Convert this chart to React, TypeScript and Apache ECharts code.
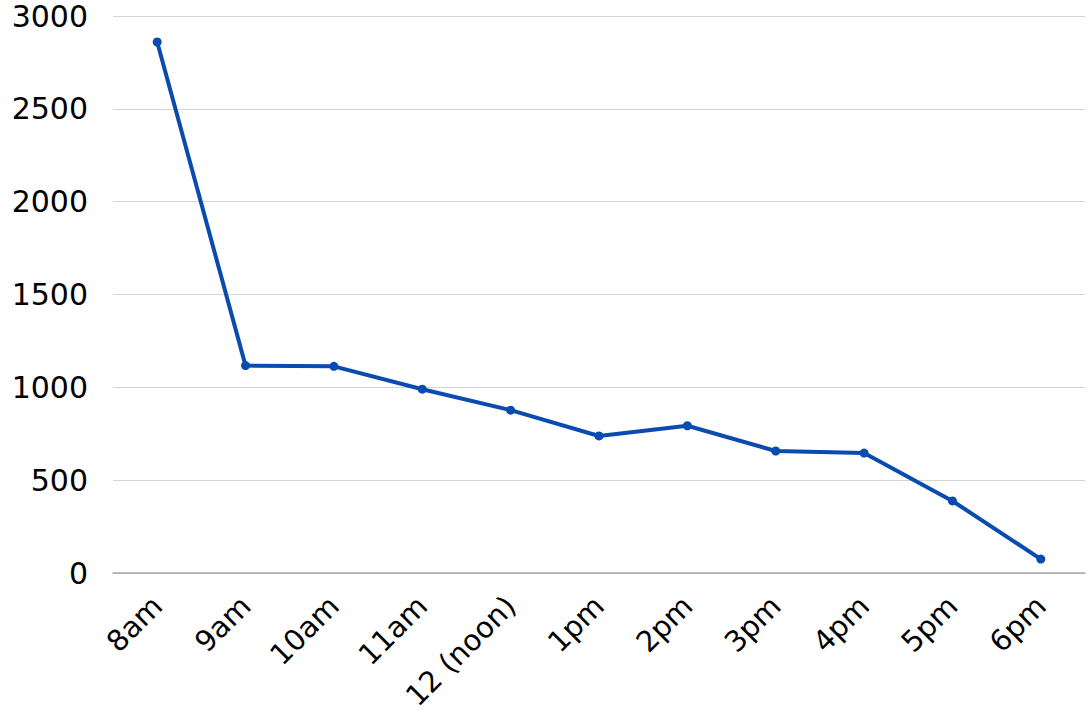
import React, { useEffect, useRef } from "react";
import * as echarts from "echarts";

const categories = ["8am", "9am", "10am", "11am", "12 (noon)", "1pm", "2pm", "3pm", "4pm", "5pm", "6pm"];
const values = [2860, 1117, 1113, 990, 877, 738, 793, 657, 646, 388, 75];
const yTicks = { min: 0, max: 3000, interval: 500 };

export default function App() {
  const ref = useRef<HTMLDivElement>(null);
  useEffect(() => {
    const chart = echarts.init(ref.current!, null, { renderer: "svg" });
    chart.setOption({
      animation: false,
      grid: { left: 113, right: 5, top: 16, bottom: 143 },
      xAxis: {
        type: "category",
        data: categories,
        boundaryGap: true,
        axisLine: { lineStyle: { color: "#a6a6a6", width: 1.5 } },
        axisTick: { show: false },
        axisLabel: {
          rotate: 45,
          fontFamily: "DejaVu Sans",
          fontSize: 29,
          color: "#000",
          margin: 28,
        },
      },
      yAxis: {
        type: "value",
        min: yTicks.min,
        max: yTicks.max,
        interval: yTicks.interval,
        axisLine: { show: false },
        axisTick: { show: false },
        splitLine: { lineStyle: { color: "#d4d4d4", width: 1 } },
        axisLabel: {
          fontFamily: "DejaVu Sans",
          fontSize: 30,
          color: "#000",
          margin: 25,
          formatter: (v: number) => String(v),
        },
      },
      series: [
        {
          type: "line",
          data: values,
          symbol: "circle",
          symbolSize: 9,
          lineStyle: { color: "#0a4bb0", width: 4 },
          itemStyle: { color: "#0a4bb0" },
        },
      ],
    });
    return () => chart.dispose();
  }, []);
  return <div ref={ref} style={{ position: "fixed", left: 0, top: 0, width: 1090, height: 716, background: "#fff" }} />;
}
